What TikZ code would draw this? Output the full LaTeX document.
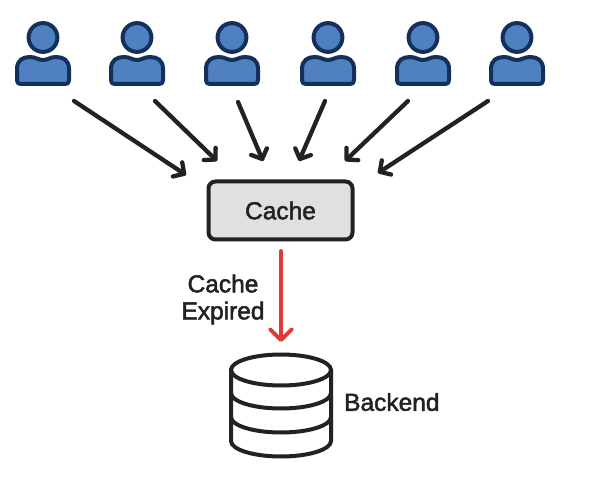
\documentclass[tikz,border=0pt]{standalone}
\usepackage{fontspec}
\setmainfont{Liberation Sans}
\newfontfamily\labelfont{Liberation Sans}[BoldFont={Liberation Sans},BoldFeatures={FakeBold=2}]
\usepackage{xcolor}
\usetikzlibrary{arrows.meta}
\definecolor{userfill}{HTML}{4F81C0}
\definecolor{userline}{HTML}{12305C}
\definecolor{inkline}{HTML}{222222}
\definecolor{cachefill}{HTML}{E0E0E0}
\definecolor{expired}{HTML}{E03A34}
\tikzset{
    user/.pic={
        \draw [userline,fill=userfill,line width=4pt] (0,-37.5) circle (14.4);
        \draw [userline,fill=userfill,line width=4pt,line join=round]
            (-26,-80) -- (-26,-69) .. controls (-26,-60) and (-20,-57) .. (-13,-57)
            .. controls (-7,-57) and (-5,-60) .. (0,-60)
            .. controls (5,-60) and (7,-57) .. (13,-57)
            .. controls (20,-57) and (26,-60) .. (26,-69)
            -- (26,-80) .. controls (26,-83) and (25,-84) .. (22,-84)
            -- (-22,-84) .. controls (-25,-84) and (-26,-83) .. (-26,-80) -- cycle;
    },
    request/.style={inkline,line width=4.3pt,line cap=round,-{Straight Barb[length=8pt,width=17pt,line width=4.3pt,round]}},
    label/.style={font=\labelfont\bfseries\fontsize{24.5}{27}\selectfont,text=inkline,inner sep=0pt,align=center},
    dbline/.style={inkline,line width=4pt,line cap=round},
}
\begin{document}
\begin{tikzpicture}[x=1pt,y=-1pt]
    \useasboundingbox (0,0) rectangle (589,478);
    % users along the top
    \foreach \x in {43,137,232,328,423,517}
        \path (\x,0) pic [yscale=-1] {user};

    % cache
    \node (cache) [draw=inkline,fill=cachefill,line width=4pt,rounded corners=7pt,
        minimum width=144pt,minimum height=58pt,label,anchor=center] at (280.5,210.5) {Cache};

    % start and end of the requests
    \coordinate (u1) at (74,101);   \coordinate (c1) at (186,175);
    \coordinate (u2) at (155,101);  \coordinate (c2) at (217,161);
    \coordinate (u3) at (238,102);  \coordinate (c3) at (263,161);
    \coordinate (u4) at (325,101);  \coordinate (c4) at (299,161);
    \coordinate (u5) at (408,101);  \coordinate (c5) at (345,161);
    \coordinate (u6) at (488,101);  \coordinate (c6) at (378,173);
    \foreach \i in {1,...,6}
        \draw [request] (u\i) -- (c\i);

    % backend
    \coordinate (db) at (281,370);
    \draw [dbline,fill=white] (db) ellipse [x radius=50,y radius=15.5];
    \draw [dbline] (231,370) -- (231,441) arc [start angle=180,end angle=0,x radius=50,y radius=15.5] -- (331,370);
    \draw [dbline] (231,393) arc [start angle=180,end angle=0,x radius=50,y radius=15.5];
    \draw [dbline] (231,417) arc [start angle=180,end angle=0,x radius=50,y radius=15.5];

    % expired request
    \coordinate (top) at (281,251);
    \coordinate (bottom) at (281,342);
    \draw [expired,line width=3.8pt,line cap=round,-{Straight Barb[length=11pt,width=22pt,line width=3.8pt,round]}] (top) -- (bottom);

    \node (expiredtext) [label] at (223,299.5) {Cache\\Expired};
    \node (backend) [label,anchor=west] at (344,402) {Backend};
\end{tikzpicture}
\end{document}
